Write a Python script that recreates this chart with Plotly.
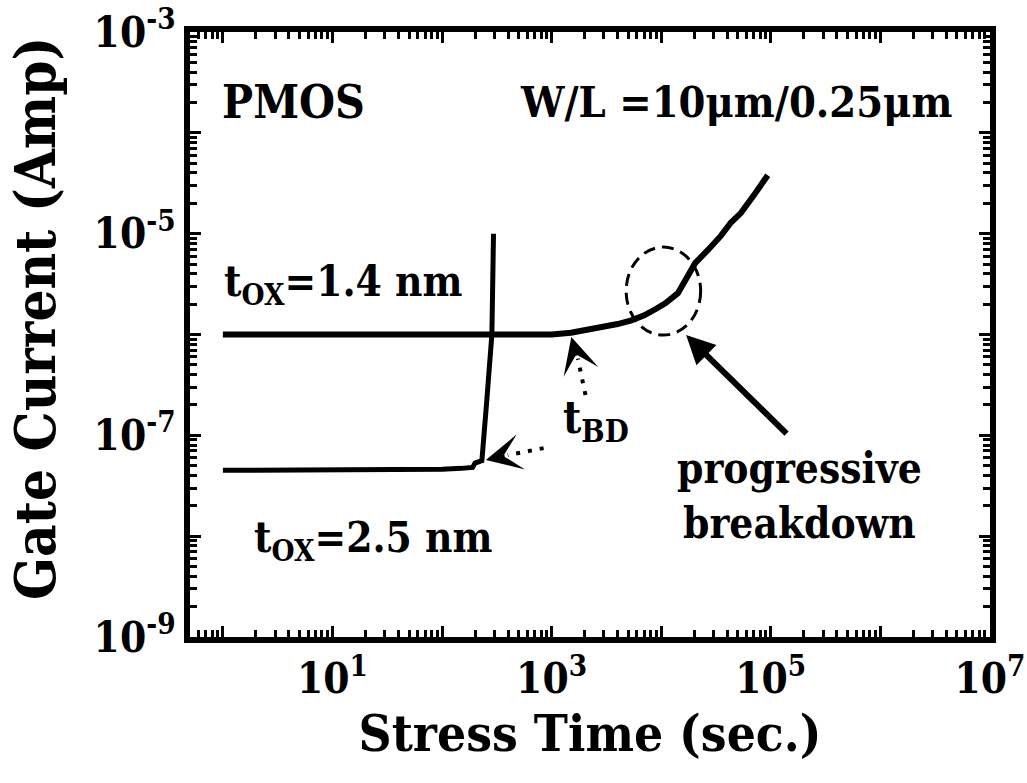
import plotly.graph_objects as go

# Gate current vs. stress time, PMOS W/L = 10um/0.25um
t_14 = [1, 10, 100, 300, 1000, 1500, 2000, 2700, 4000, 5350, 7000, 9000,
        10900, 14200, 20400, 26700, 35000, 43300, 53300, 70000, 93800]
i_14 = [1.0e-6, 1.0e-6, 1.0e-6, 1.0e-6, 1.0e-6, 1.04e-6, 1.1e-6, 1.18e-6,
        1.27e-6, 1.38e-6, 1.55e-6, 1.8e-6, 2.04e-6, 2.57e-6, 5.1e-6, 6.9e-6,
        9.5e-6, 1.29e-5, 1.6e-5, 2.4e-5, 3.8e-5]

t_25 = [1, 10, 50, 100, 150, 190, 200, 215, 231, 256, 285, 295]
i_25 = [4.5e-8, 4.5e-8, 4.6e-8, 4.6e-8, 4.7e-8, 4.8e-8, 5.3e-8, 5.4e-8,
        5.6e-8, 2.2e-7, 1.0e-6, 1.0e-5]

# tick positions: decades plus the 2..9 subdivisions, labels on odd decades
x_ticks, x_text = [], []
for k in range(-1, 8):
    for m in range(1, 10):
        v = m * 10.0 ** k
        if 0.5 <= v <= 1e7:
            x_ticks.append(v)
            x_text.append(f"10<sup>{k}</sup>" if (m == 1 and k % 2) else "")
y_ticks, y_text = [], []
for k in range(-9, -2):
    for m in range(1, 10):
        v = m * 10.0 ** k
        if v <= 1e-3 * 1.0001:
            y_ticks.append(v)
            y_text.append(f"10<sup>{k}</sup>" if (m == 1 and k % 2) else "")
x_decades = [10.0 ** k for k in range(0, 8)]
y_decades = [10.0 ** k for k in range(-9, -2)]

X_RANGE = [-0.3, 7.0005]
Y_RANGE = [-9.0005, -2.9995]

FONT = "DejaVu Serif Condensed, DejaVu Serif, serif"
INK = "black"


def px(lx):
    return (lx - X_RANGE[0]) / (X_RANGE[1] - X_RANGE[0])


def py(ly):
    return (ly - Y_RANGE[0]) / (Y_RANGE[1] - Y_RANGE[0])


fig = go.Figure()
fig.add_trace(go.Scatter(x=t_14, y=i_14, mode="lines",
                         line=dict(color=INK, width=6), showlegend=False))
# the 2.5 nm curve lives on the companion axes carrying the longer decade ticks
fig.add_trace(go.Scatter(x=t_25, y=i_25, mode="lines", xaxis="x2", yaxis="y2",
                         line=dict(color=INK, width=5), showlegend=False))

frame = dict(type="log", showgrid=False, zeroline=False,
             showline=True, linecolor=INK, linewidth=6, mirror="ticks",
             ticks="inside", tickwidth=3, tickcolor=INK,
             ticklabeloverflow="allow", automargin=False)

fig.update_layout(
    xaxis=dict(
        **frame, range=X_RANGE, ticklen=7, tickvals=x_ticks, ticktext=x_text,
        tickfont=dict(family=FONT, size=42, color=INK, weight="bold"),
        title=dict(text="Stress Time (sec.)", standoff=2,
                   font=dict(family=FONT, size=51, color=INK, weight="bold")),
    ),
    yaxis=dict(
        **frame, range=Y_RANGE, ticklen=7, tickvals=y_ticks, ticktext=y_text,
        tickfont=dict(family=FONT, size=42, color=INK, weight="bold"),
    ),
    xaxis2=dict(**frame, range=X_RANGE, ticklen=11, tickvals=x_decades,
                showticklabels=False, overlaying="x", anchor="y2", side="bottom"),
    yaxis2=dict(**frame, range=Y_RANGE, ticklen=11, tickvals=y_decades,
                showticklabels=False, overlaying="y", anchor="x2", side="left"),
)

# y-axis title
fig.add_annotation(x=-0.194, y=0.527, xref="paper", yref="paper",
                   text="Gate Current (Amp)", textangle=-90, showarrow=False,
                   xanchor="center", yanchor="middle",
                   font=dict(family=FONT, size=56, color=INK, weight="bold"))

txt = dict(family=FONT, size=42, color=INK, weight="bold")
ann = [
    dict(x=0.645, y=-3.69, text="PMOS", xanchor="center", yanchor="middle",
         size=46),
    dict(x=6.673, y=-3.69, text="W/L =10\u03bcm/0.25\u03bcm", xanchor="right",
         yanchor="middle", size=43),
    dict(x=-0.01, y=-5.5, text="t<sub>OX</sub>=1.4 nm", xanchor="left",
         yanchor="middle", size=42),
    dict(x=0.264, y=-8.04, text="t<sub>OX</sub>=2.5 nm", xanchor="left",
         yanchor="middle", size=42),
    dict(x=3.09, y=-6.85, text="t<sub>BD</sub>", xanchor="left",
         yanchor="middle", size=44),
    dict(x=5.264, y=-7.60, text="progressive<br>breakdown", xanchor="center",
         yanchor="middle", size=42),
]
for a in ann:
    size = a.pop("size")
    fig.add_annotation(**a, xref="x", yref="y", showarrow=False,
                       font=dict(txt, size=size))

# solid arrow pointing at the progressive-breakdown region
fig.add_annotation(x=4.227, y=-6.006, xref="x", yref="y", text="",
                   showarrow=True, arrowhead=2, arrowsize=0.95, arrowwidth=6,
                   arrowcolor=INK, ax=102, ay=100)
# dotted leaders with small arrowheads marking t_BD
fig.add_shape(type="line", xref="paper", yref="paper",
              x0=px(2.927), y0=py(-7.127), x1=px(2.60), y1=py(-7.196),
              line=dict(color=INK, width=4, dash="4px,8px"))
fig.add_annotation(x=2.40, y=-7.246, xref="x", yref="y", text="",
                   showarrow=True, arrowhead=3, arrowsize=2, arrowwidth=3,
                   arrowcolor=INK, ax=17, ay=-4)
fig.add_shape(type="line", xref="paper", yref="paper",
              x0=px(3.309), y0=py(-6.60), x1=px(3.24), y1=py(-6.24),
              line=dict(color=INK, width=4, dash="4px,8px"))
fig.add_annotation(x=3.18, y=-6.026, xref="x", yref="y", text="",
                   showarrow=True, arrowhead=3, arrowsize=2, arrowwidth=3,
                   arrowcolor=INK, ax=5, ay=18)
# dashed ellipse around the knee of the 1.4 nm curve
fig.add_shape(type="circle", xref="paper", yref="paper",
              x0=px(3.68), x1=px(4.36), y0=py(-6.006), y1=py(-5.133),
              line=dict(color=INK, width=3, dash="12px,7px"))

fig.update_layout(
    width=1027, height=783,
    margin=dict(l=190, r=37, t=32, b=146, autoexpand=False),
    paper_bgcolor="white", plot_bgcolor="white",
)

fig.write_html("out.html")
